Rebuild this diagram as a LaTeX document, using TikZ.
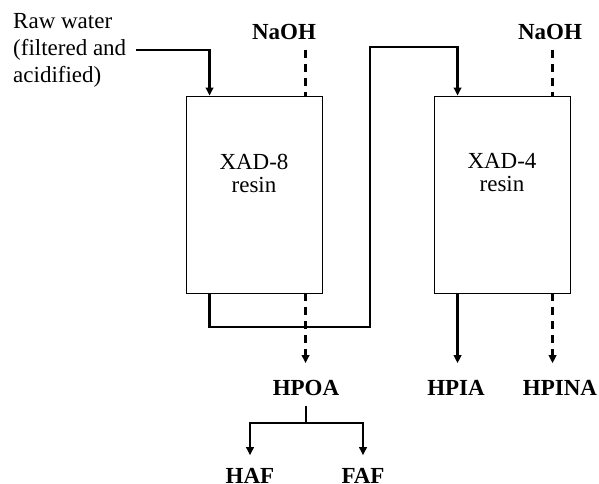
\documentclass[tikz,border=0pt]{standalone}
\usepackage{fontspec}
\setmainfont{Liberation Serif}
\usetikzlibrary{arrows.meta}

\begin{document}
\begin{tikzpicture}[line cap=butt,line join=miter,x=1pt,y=-1pt,
    every node/.style={font=\fontsize{23}{27}\selectfont},
    column/.style={draw,line width=0.9pt,minimum width=136pt,minimum height=197pt,inner sep=0pt},
    label/.style={font=\fontsize{23}{27}\selectfont\bfseries,inner sep=2pt},
    flow/.style={line width=2.2pt,-{Triangle[length=8pt,width=7.5pt]}},
    wash/.style={flow,dash pattern=on 8pt off 6pt}]
	\useasboundingbox (0,0) rectangle (599,483);
	% Colonnes
	\node[column] (xad8) at (254,194.5) {};
	\node[column] (xad4) at (502,194.5) {};
	\node[align=center] (t8) at (254,173) {XAD-8\\[-4pt]resin};
	\node[align=center] (t4) at (502,173) {XAD-4\\[-4pt]resin};
	% Entrees
	\node[align=left,anchor=west,inner sep=0pt] (raw) at (13,50) {Raw water\\(filtered and\\acidified)};
	\node[label] (naoh1) at (284,32) {NaOH};
	\node[label] (naoh2) at (550,32) {NaOH};
	% Sorties
	\node[label] (hpoa) at (306,388) {HPOA};
	\node[label] (hpia) at (456,388) {HPIA};
	\node[label] (hpina) at (560,388) {HPINA};
	\node[label] (haf) at (250,476) {HAF};
	\node[label] (faf) at (363,476) {FAF};
	% Points
	\coordinate (in8) at ([xshift=24pt]xad8.north west);
	\coordinate (na8) at ([xshift=120pt]xad8.north west);
	\coordinate (out8) at ([xshift=24pt]xad8.south west);
	\coordinate (el8) at ([xshift=120pt]xad8.south west);
	\coordinate (in4) at ([xshift=24pt]xad4.north west);
	\coordinate (na4) at ([xshift=119pt]xad4.north west);
	\coordinate (out4) at ([xshift=24pt]xad4.south west);
	\coordinate (el4) at ([xshift=119pt]xad4.south west);
	\coordinate (loopB) at (370,327);
	\coordinate (loopT) at (370,47);
	\coordinate (split) at (306,423);
	% Fleches
	\draw[flow] ([xshift=10pt]raw.east) -| (in8);
	\draw[wash,-,shorten <=8pt] (na8 |- naoh1.south) -- (na8);
	\draw[wash,-,shorten <=8pt] (na4 |- naoh2.south) -- (na4);
	\draw[flow] (out8) |- (loopB) -- (loopT) -| (in4);
	\draw[wash,shorten >=15pt] (el8) -- (el8 |- hpoa.north);
	\draw[flow,shorten >=15pt] (out4) -- (out4 |- hpia.north);
	\draw[wash,shorten >=15pt] (el4) -- (el4 |- hpina.north);
	\draw[flow,-,shorten <=8pt] (hpoa.south) -- (split);
	\draw[flow,shorten >=11pt] (split) -| (haf.north);
	\draw[flow,shorten >=11pt] (split) -| (faf.north);
\end{tikzpicture}
\end{document}
